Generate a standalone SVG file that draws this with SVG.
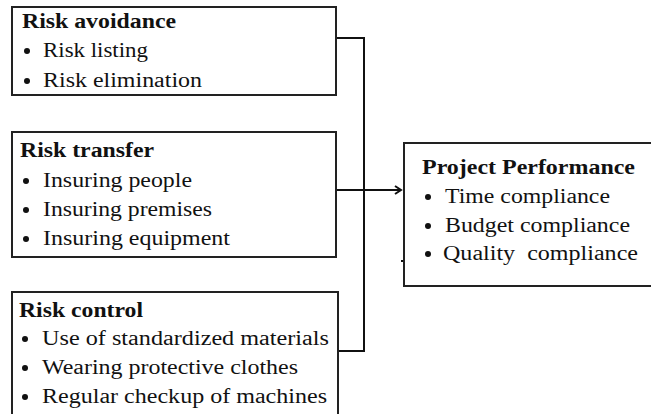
<svg xmlns="http://www.w3.org/2000/svg" width="651" height="414" viewBox="0 0 651 414">
<defs>
<style>
.box{fill:#fff;stroke:#222;stroke-width:2}
.t{font-family:'Liberation Serif',serif;font-size:20px;fill:#111}
.h{font-weight:bold}
.b{fill:#111}
.conn{fill:none;stroke:#111;stroke-width:2}
</style>
<marker id="arr" markerWidth="10" markerHeight="10" refX="7" refY="5" orient="auto" markerUnits="userSpaceOnUse">
<path d="M1,1 L7,5 L1,9" fill="none" stroke="#111" stroke-width="2"/>
</marker>
</defs>
<rect width="651" height="414" fill="#fff"/>
<g id="connectors">
<path class="conn" d="M336,38 H364 V351 H338"/>
<path class="conn" d="M336,190 H401" marker-end="url(#arr)"/>
<path class="conn" d="M401,261 H404" stroke-width="1.5"/>
</g>
<g id="risk-avoidance">
<rect class="box" x="12" y="7" width="324" height="88"/>
<text class="t h" x="22" y="28" textLength="154" lengthAdjust="spacingAndGlyphs">Risk avoidance</text>
<circle class="b" cx="27" cy="51" r="3"/>
<text class="t" x="43" y="57" textLength="105" lengthAdjust="spacingAndGlyphs">Risk listing</text>
<circle class="b" cx="27" cy="81" r="3"/>
<text class="t" x="43" y="87" textLength="159" lengthAdjust="spacingAndGlyphs">Risk elimination</text>
</g>
<g id="risk-transfer">
<rect class="box" x="12" y="132" width="324" height="125"/>
<text class="t h" x="20" y="157" textLength="134" lengthAdjust="spacingAndGlyphs">Risk transfer</text>
<circle class="b" cx="26" cy="181" r="3"/>
<text class="t" x="43" y="187" textLength="149" lengthAdjust="spacingAndGlyphs">Insuring people</text>
<circle class="b" cx="26" cy="210" r="3"/>
<text class="t" x="43" y="216" textLength="169" lengthAdjust="spacingAndGlyphs">Insuring premises</text>
<circle class="b" cx="26" cy="239" r="3"/>
<text class="t" x="43" y="245" textLength="187" lengthAdjust="spacingAndGlyphs">Insuring equipment</text>
</g>
<g id="risk-control">
<rect class="box" x="12" y="292" width="326" height="130"/>
<text class="t h" x="19" y="317" textLength="124" lengthAdjust="spacingAndGlyphs">Risk control</text>
<circle class="b" cx="25" cy="339" r="3"/>
<text class="t" x="42" y="345" textLength="287" lengthAdjust="spacingAndGlyphs">Use of standardized materials</text>
<circle class="b" cx="25" cy="368" r="3"/>
<text class="t" x="42" y="374" textLength="256" lengthAdjust="spacingAndGlyphs">Wearing protective clothes</text>
<circle class="b" cx="25" cy="397" r="3"/>
<text class="t" x="42" y="403" textLength="285" lengthAdjust="spacingAndGlyphs">Regular checkup of machines</text>
</g>
<g id="project-performance">
<rect class="box" x="404" y="143" width="260" height="143"/>
<text class="t h" x="422" y="174" textLength="213" lengthAdjust="spacingAndGlyphs">Project Performance</text>
<circle class="b" cx="428" cy="197" r="3"/>
<text class="t" x="445" y="203" textLength="165" lengthAdjust="spacingAndGlyphs">Time compliance</text>
<circle class="b" cx="428" cy="226" r="3"/>
<text class="t" x="445" y="232" textLength="185" lengthAdjust="spacingAndGlyphs">Budget compliance</text>
<circle class="b" cx="428" cy="254" r="3"/>
<text class="t" x="443" y="260" textLength="195" lengthAdjust="spacingAndGlyphs" xml:space="preserve">Quality  compliance</text>
</g>
</svg>
